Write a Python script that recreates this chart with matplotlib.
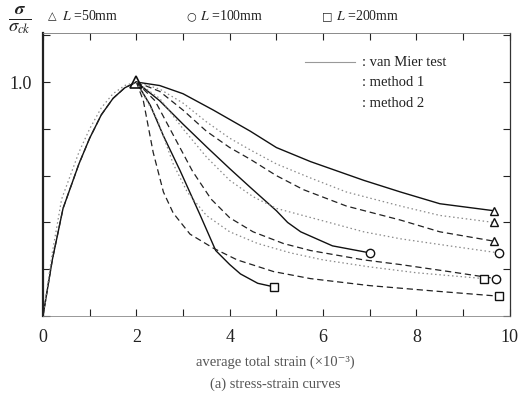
import matplotlib
matplotlib.use("Agg")
import matplotlib.pyplot as plt
from matplotlib.ticker import MultipleLocator, FixedLocator

plt.rcParams['font.family'] = ['Liberation Serif', 'DejaVu Serif']
plt.rcParams['mathtext.fontset'] = 'stix'

# ascending branch shared by all runs (strain x10^-3, sigma/sigma_ck)
rise_x = [0.0, 0.2, 0.43, 0.77, 1.0, 1.25, 1.5, 1.75, 2.0]
rise_y = [0.0, 0.24, 0.46, 0.65, 0.76, 0.86, 0.93, 0.975, 1.0]
rise_x_dot = [0.0, 0.2, 0.4, 0.77, 1.0, 1.25, 1.5, 1.75, 2.0]
rise_y_dot = [0.0, 0.27, 0.5, 0.70, 0.80, 0.89, 0.95, 0.985, 1.0]

# L = 50mm
l50_test_x = [2.0, 2.5, 3.0, 3.65, 4.44, 5.0, 5.73, 6.3, 6.87, 7.66, 8.5, 9.66]
l50_test_y = [1.0, 0.985, 0.95, 0.88, 0.79, 0.72, 0.66, 0.62, 0.58, 0.53, 0.48, 0.45]
l50_m1_x = [2.0, 2.5, 3.0, 3.5, 4.0, 4.44, 5.0, 5.58, 6.5, 7.66, 8.5, 9.66]
l50_m1_y = [1.0, 0.96, 0.88, 0.79, 0.72, 0.67, 0.60, 0.54, 0.47, 0.41, 0.36, 0.32]
l50_m2_x = [2.0, 2.5, 3.0, 3.5, 4.0, 4.44, 5.0, 5.73, 6.5, 7.66, 8.5, 9.66]
l50_m2_y = [1.0, 0.97, 0.91, 0.83, 0.76, 0.71, 0.65, 0.59, 0.53, 0.47, 0.43, 0.40]

# L = 100mm
l100_test_x = [2.0, 2.5, 3.0, 3.52, 4.0, 4.44, 4.72, 5.0, 5.24, 5.52, 6.2, 7.0]
l100_test_y = [1.0, 0.92, 0.82, 0.72, 0.63, 0.55, 0.50, 0.45, 0.40, 0.36, 0.30, 0.27]
l100_m1_x = [2.0, 2.4, 2.8, 3.2, 3.6, 4.0, 4.5, 5.15, 5.73, 6.87, 7.66, 8.7, 9.7]
l100_m1_y = [1.0, 0.92, 0.77, 0.62, 0.50, 0.42, 0.36, 0.31, 0.28, 0.24, 0.22, 0.19, 0.16]
l100_m2_x = [2.0, 2.5, 3.0, 3.5, 4.0, 4.5, 5.0, 5.94, 6.87, 7.66, 8.7, 9.76]
l100_m2_y = [1.0, 0.93, 0.80, 0.68, 0.58, 0.51, 0.46, 0.41, 0.36, 0.33, 0.30, 0.27]

# L = 200mm
l200_test_x = [2.0, 2.3, 2.58, 2.94, 3.37, 3.7, 4.0, 4.23, 4.6, 4.94]
l200_test_y = [1.0, 0.90, 0.77, 0.62, 0.43, 0.28, 0.22, 0.18, 0.14, 0.125]
l200_m1_x = [2.0, 2.15, 2.36, 2.58, 2.79, 3.15, 3.65, 4.16, 4.94, 5.73, 7.0, 8.5, 9.76]
l200_m1_y = [1.0, 0.92, 0.70, 0.53, 0.44, 0.35, 0.29, 0.24, 0.19, 0.16, 0.13, 0.105, 0.085]
l200_m2_x = [2.0, 2.45, 2.79, 3.09, 3.5, 4.0, 4.6, 5.3, 6.0, 7.0, 8.0, 9.45]
l200_m2_y = [1.0, 0.84, 0.65, 0.53, 0.43, 0.36, 0.31, 0.27, 0.24, 0.21, 0.185, 0.16]

curves = [
    (l50_test_x, l50_test_y, 'test', '^'),
    (l50_m1_x, l50_m1_y, 'm1', '^'),
    (l50_m2_x, l50_m2_y, 'm2', '^'),
    (l100_test_x, l100_test_y, 'test', 'o'),
    (l100_m1_x, l100_m1_y, 'm1', 'o'),
    (l100_m2_x, l100_m2_y, 'm2', 'o'),
    (l200_test_x, l200_test_y, 'test', 's'),
    (l200_m1_x, l200_m1_y, 'm1', 's'),
    (l200_m2_x, l200_m2_y, 'm2', 's'),
]
styles = {
    'test': dict(color='#111111', lw=1.0, ls='-'),
    'm1': dict(color='#222222', lw=0.9, ls=(0, (5, 3))),
    'm2': dict(color='#8a8a8a', lw=0.9, ls=(0, (1.2, 2.2))),
}

fig = plt.figure(figsize=(5.24, 4.11), dpi=100)
ax = fig.add_axes([0.082, 0.231, 0.891, 0.689])

ax.plot(rise_x, rise_y, **styles['test'])
ax.plot(rise_x, rise_y, **styles['m1'])
ax.plot(rise_x_dot, rise_y_dot, **styles['m2'])

for xs, ys, kind, mk in curves:
    ax.plot(xs, ys, **styles[kind])
    ax.plot(xs[-1], ys[-1], marker=mk, ms=6, mfc='white', mec='#111111', mew=1.0, ls='none')

# peak marker
ax.plot(2.0, 1.0, marker='^', ms=8, mfc='none', mec='#111111', mew=1.2)

ax.set_xlim(0, 10)
ax.set_ylim(0, 1.21)
ax.xaxis.set_major_locator(MultipleLocator(2))
ax.xaxis.set_minor_locator(MultipleLocator(1))
ax.yaxis.set_major_locator(FixedLocator([1.0]))
ax.yaxis.set_minor_locator(MultipleLocator(0.2))
ax.set_yticklabels(['1.0'])
ax.tick_params(which='both', direction='in', top=True, right=True, colors='#222222',
               labelsize=13, width=0.8)
ax.tick_params(which='major', length=5)
ax.tick_params(which='minor', length=5)
ax.tick_params(axis='x', pad=9)
ax.tick_params(axis='y', pad=8)

ax.spines['left'].set_linewidth(1.6)
ax.spines['left'].set_color('#222222')
ax.spines['right'].set_linewidth(0.9)
ax.spines['right'].set_color('#333333')
ax.spines['top'].set_linewidth(0.6)
ax.spines['top'].set_color('#777777')
ax.spines['top'].set_linestyle((0, (2, 1)))
ax.spines['bottom'].set_linewidth(0.6)
ax.spines['bottom'].set_color('#888888')
ax.spines['bottom'].set_linestyle((0, (2, 1)))

# legend on the right
ax.plot([5.61, 6.68], [1.085, 1.085], color='#999999', lw=0.8)
ax.text(6.83, 1.085, ': van Mier test', fontsize=10.5, va='center', color='#222222')
ax.text(6.83, 1.0, ': method 1', fontsize=10.5, va='center', color='#222222')
ax.text(6.83, 0.91, ': method 2', fontsize=10.5, va='center', color='#222222')

# specimen length key along the top
key_y = 1 - 16 / 411
for sym, x_sym, label, x_lab in [('△', 48, '$L$ =50mm', 62),
                                 ('○', 186, '$L$ =100mm', 200),
                                 ('□', 322, '$L$ =200mm', 336)]:
    fig.text(x_sym / 524, key_y, sym, fontsize=8, va='center', color='#222222',
             family=['DejaVu Sans'])
    fig.text(x_lab / 524, key_y, label, fontsize=10, va='center', color='#222222')

fig.text(20 / 524, 1 - 20 / 411, r'$\frac{\boldsymbol{\sigma}}{\boldsymbol{\sigma_{ck}}}$', fontsize=19,
         ha='center', va='center', color='#222222')

fig.text(275 / 524, 1 - 362 / 411, 'average total strain (×10⁻³)', fontsize=10.5,
         ha='center', va='center', color='#555555')
fig.text(275 / 524, 1 - 384 / 411, '(a) stress-strain curves', fontsize=10.5,
         ha='center', va='center', color='#555555')

fig.savefig('out.png', dpi=100)
